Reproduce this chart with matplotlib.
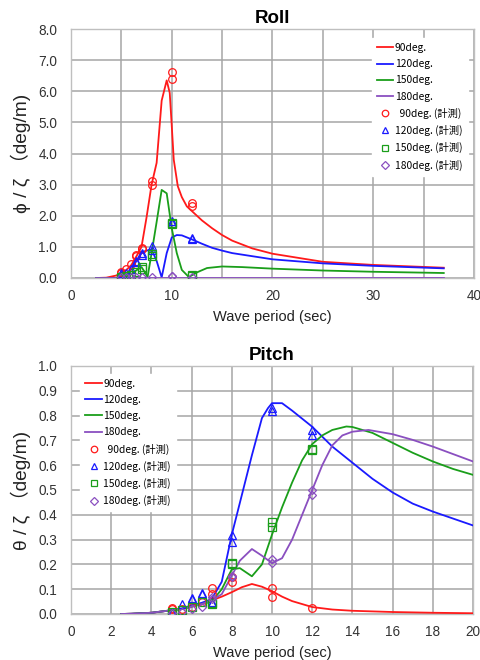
import matplotlib
matplotlib.use("Agg")
import matplotlib.pyplot as plt

# ---------------- Roll data ----------------
roll_t90 = [2.5, 3.5, 4.5, 5, 5.5, 6, 6.5, 7, 7.5, 8, 8.5, 9, 9.5, 9.8, 10, 10.2, 10.6, 11, 11.5, 12, 13, 14, 15, 16, 18, 20, 25, 30, 37]
roll_y90 = [0, 0.01, 0.08, 0.16, 0.26, 0.42, 0.7, 1.0, 1.95, 3.0, 3.7, 5.7, 6.35, 5.95, 4.9, 3.8, 2.95, 2.6, 2.3, 2.15, 1.85, 1.6, 1.38, 1.2, 0.95, 0.78, 0.52, 0.42, 0.33]
roll_t120 = [2.5, 4.5, 5, 5.5, 6, 6.5, 7, 7.5, 8, 8.5, 9, 9.5, 10, 10.5, 11, 12, 13, 14, 15, 16, 18, 20, 25, 30, 37]
roll_y120 = [0, 0.0, 0.05, 0.12, 0.28, 0.55, 0.82, 0.88, 0.92, 0.55, 0.02, 0.8, 1.3, 1.38, 1.37, 1.24, 1.1, 0.97, 0.88, 0.8, 0.7, 0.6, 0.47, 0.39, 0.31]
roll_t150 = [2.5, 4.5, 5, 5.5, 6, 6.5, 7, 7.3, 7.6, 8, 8.5, 9, 9.5, 10, 10.5, 11, 11.7, 12.5, 13.5, 15, 17, 20, 25, 30, 37]
roll_y150 = [0, 0, 0.02, 0.05, 0.12, 0.25, 0.35, 0.2, 0.03, 0.8, 1.8, 2.83, 2.72, 1.6, 0.8, 0.26, 0.03, 0.18, 0.32, 0.37, 0.35, 0.3, 0.24, 0.2, 0.16]
roll_t180 = [2.5, 37]
roll_y180 = [0, 0]

roll_m90_t = [5, 5, 5.5, 6, 6.5, 6.5, 7, 7, 8, 8, 10, 10, 12, 12]
roll_m90_y = [0.15, 0.2, 0.3, 0.45, 0.7, 0.75, 0.92, 0.97, 3.0, 3.12, 6.4, 6.62, 2.32, 2.4]
roll_m120_t = [5, 5, 5.5, 6, 6.5, 6.5, 7, 7, 8, 8, 10, 10, 12, 12]
roll_m120_y = [0.1, 0.15, 0.15, 0.3, 0.5, 0.55, 0.75, 0.8, 0.9, 1.02, 1.77, 1.82, 1.25, 1.28]
roll_m150_t = [5, 5, 5.5, 6, 6.5, 7, 7, 8, 8, 10, 10, 12, 12]
roll_m150_y = [0.0, 0.03, 0.05, 0.1, 0.2, 0.3, 0.35, 0.7, 0.78, 1.72, 1.76, 0.05, 0.1]
roll_m180_t = [5, 5.5, 6, 6.5, 7, 8, 10, 10, 12]
roll_m180_y = [0.02, 0.02, 0.02, 0.02, 0.02, 0.03, 0.05, 0.08, 0.03]

# ---------------- Pitch data ----------------
pitch_t90 = [2.5, 3, 4, 5, 5.5, 6, 6.5, 7, 7.5, 8, 8.5, 9, 9.5, 10, 10.5, 11, 12, 13, 14, 16, 18, 20]
pitch_y90 = [0, 0.001, 0.005, 0.015, 0.02, 0.03, 0.04, 0.055, 0.07, 0.088, 0.108, 0.121, 0.11, 0.092, 0.07, 0.052, 0.028, 0.018, 0.013, 0.008, 0.005, 0.003]
pitch_t120 = [2.5, 3, 4, 5, 5.5, 6, 6.5, 7, 7.5, 8, 8.5, 9, 9.5, 9.8, 10, 10.5, 11, 12, 13, 14, 15, 16, 17, 18, 19, 20]
pitch_y120 = [0, 0.001, 0.005, 0.015, 0.022, 0.035, 0.045, 0.06, 0.13, 0.32, 0.48, 0.64, 0.79, 0.83, 0.85, 0.85, 0.82, 0.755, 0.675, 0.61, 0.545, 0.49, 0.445, 0.413, 0.385, 0.357]
pitch_t150 = [2.5, 3, 4, 5, 5.5, 6, 6.5, 7, 7.5, 8, 8.4, 9, 9.5, 10, 10.5, 11, 11.5, 12, 12.5, 13, 13.7, 14, 15, 16, 17, 18, 19, 20]
pitch_y150 = [0, 0.001, 0.005, 0.015, 0.02, 0.03, 0.04, 0.05, 0.1, 0.18, 0.185, 0.152, 0.2, 0.32, 0.43, 0.53, 0.62, 0.685, 0.72, 0.742, 0.756, 0.754, 0.73, 0.69, 0.65, 0.615, 0.585, 0.561]
pitch_t180 = [2.5, 3, 4, 5, 5.5, 6, 6.5, 7, 7.5, 8, 8.4, 9, 9.5, 10, 10.5, 11, 11.5, 12, 12.5, 13, 13.5, 14, 14.8, 16, 17, 18, 19, 20]
pitch_y180 = [0, 0.001, 0.005, 0.015, 0.02, 0.03, 0.04, 0.055, 0.08, 0.155, 0.215, 0.262, 0.235, 0.205, 0.225, 0.3, 0.4, 0.5, 0.6, 0.68, 0.72, 0.735, 0.742, 0.725, 0.702, 0.675, 0.645, 0.615]

pitch_m90_t = [5, 5, 5.5, 6, 6.5, 7, 7, 8, 8, 10, 10, 12]
pitch_m90_y = [0.02, 0.025, 0.02, 0.03, 0.05, 0.08, 0.105, 0.13, 0.15, 0.07, 0.105, 0.025]
pitch_m120_t = [5, 5.5, 6, 6, 6.5, 6.5, 7, 7, 8, 8, 10, 10, 12, 12]
pitch_m120_y = [0.01, 0.04, 0.06, 0.065, 0.08, 0.085, 0.045, 0.05, 0.29, 0.32, 0.82, 0.83, 0.72, 0.74]
pitch_m150_t = [5, 5, 5.5, 6, 6.5, 7, 7, 8, 8, 10, 10, 12, 12]
pitch_m150_y = [0.0, 0.01, 0.015, 0.03, 0.05, 0.04, 0.045, 0.2, 0.205, 0.35, 0.37, 0.66, 0.665]
pitch_m180_t = [5, 5.5, 6, 6.5, 7, 7, 8, 8, 10, 10, 12, 12]
pitch_m180_y = [0.005, 0.01, 0.02, 0.03, 0.06, 0.07, 0.15, 0.155, 0.205, 0.22, 0.48, 0.5]

line_labels = ["90deg.", "120deg.", "150deg.", "180deg."]
meas_labels = ["  90deg. (計測)", "120deg. (計測)", "150deg. (計測)", "180deg. (計測)"]
colors = ["#ff1a1a", "#1a1aff", "#1a9e1a", "#8a4fc0"]
markers = ["o", "^", "s", "D"]
msizes = [5.5, 5.8, 5.2, 4.3]

roll_x_ticks = [0, 10, 20, 30, 40]
roll_y_ticks = [0, 1, 2, 3, 4, 5, 6, 7, 8]
pitch_x_ticks = [0, 2, 4, 6, 8, 10, 12, 14, 16, 18, 20]
pitch_y_ticks = [0.0, 0.1, 0.2, 0.3, 0.4, 0.5, 0.6, 0.7, 0.8, 0.9, 1.0]

plt.rcParams['font.family'] = ['Liberation Sans', 'Noto Sans CJK JP', 'DejaVu Sans']

fig = plt.figure(figsize=(4.81, 6.60), dpi=100)
ax1 = fig.add_axes([0.1476, 0.5788, 0.8378, 0.3772])
ax2 = fig.add_axes([0.1476, 0.0697, 0.8358, 0.3758])

legend_font = {'family': ['Noto Sans CJK JP', 'DejaVu Sans'], 'size': 7.4}


def style(ax, xlim, ylim, xticks, yticks, xminor, yfmt, title, ylabel):
    ax.set_xlim(*xlim)
    ax.set_ylim(*ylim)
    ax.set_xticks(xticks)
    ax.set_xticks(xminor, minor=True)
    ax.set_yticks(yticks)
    ax.set_yticklabels([yfmt.format(v) for v in yticks])
    ax.grid(True, which='both', color='#a6a6a6', linewidth=1.1, zorder=0)
    ax.set_axisbelow(True)
    ax.tick_params(axis='both', which='both', length=0, labelsize=9.8, colors='#333333')
    ax.tick_params(axis='y', pad=10)
    ax.tick_params(axis='x', pad=8)
    for s in ax.spines.values():
        s.set_color('#bfbfbf')
        s.set_linewidth(1.0)
    ax.set_title(title, fontsize=13.5, fontweight='bold', pad=4)
    ax.set_xlabel("Wave period (sec)", fontsize=10.5, labelpad=5, color='#222222')
    ax.set_ylabel(ylabel, fontsize=13.8, labelpad=5, color='#222222')


def draw(ax, lines, meas):
    handles = []
    for (t, y), c, lab in zip(lines, colors, line_labels):
        h, = ax.plot(t, y, color=c, lw=1.3, label=lab, zorder=3)
        handles.append(h)
    for (t, y), c, m, ms, lab in zip(meas, colors, markers, msizes, meas_labels):
        h, = ax.plot(t, y, linestyle='none', marker=m, markersize=ms, markerfacecolor='none',
                     markeredgecolor=c, markeredgewidth=0.9, label=lab, zorder=4)
        handles.append(h)
    return handles


h1 = draw(ax1,
          [(roll_t90, roll_y90), (roll_t120, roll_y120), (roll_t150, roll_y150), (roll_t180, roll_y180)],
          [(roll_m90_t, roll_m90_y), (roll_m120_t, roll_m120_y), (roll_m150_t, roll_m150_y), (roll_m180_t, roll_m180_y)])
style(ax1, (0, 40), (0, 8), roll_x_ticks, roll_y_ticks, [5, 15, 25, 35], "{:.1f}", "Roll", "ϕ / ζ （deg/m)")

h2 = draw(ax2,
          [(pitch_t90, pitch_y90), (pitch_t120, pitch_y120), (pitch_t150, pitch_y150), (pitch_t180, pitch_y180)],
          [(pitch_m90_t, pitch_m90_y), (pitch_m120_t, pitch_m120_y), (pitch_m150_t, pitch_m150_y), (pitch_m180_t, pitch_m180_y)])
style(ax2, (0, 20), (0, 1.0), pitch_x_ticks, pitch_y_ticks, [], "{:.1f}", "Pitch", "θ / ζ （deg/m)")

for ax, h, loc, anchor in [(ax1, h1, 'upper right', (0.997, 0.985)), (ax2, h2, 'upper left', (0.01, 0.99))]:
    leg = ax.legend(handles=h, loc=loc, bbox_to_anchor=anchor, prop=legend_font, frameon=True,
                    handlelength=1.6, handletextpad=0.15, labelspacing=0.6, borderpad=0.5,
                    fancybox=False, markerscale=0.85)
    leg.get_frame().set_facecolor('white')
    leg.get_frame().set_edgecolor('white')
    leg.get_frame().set_alpha(1.0)
    leg.set_zorder(5)

fig.savefig("out.png", dpi=100)
